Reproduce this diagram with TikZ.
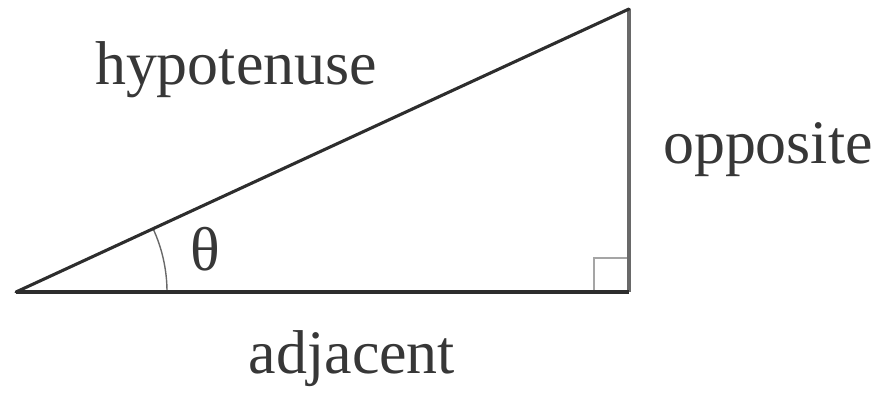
\documentclass[tikz,border=0pt]{standalone}
\usepackage{fontspec}
\setmainfont{Liberation Serif}
\usetikzlibrary{calc}
\definecolor{lineDark}{RGB}{45,45,45}
\definecolor{lineMid}{RGB}{105,105,105}
\definecolor{lineLight}{RGB}{165,165,165}
\definecolor{textDark}{RGB}{55,55,55}
\begin{document}
\begin{tikzpicture}[x=0.025cm,y=-0.025cm,
  lbl/.style={text=textDark,font=\fontsize{44}{50}\selectfont,anchor=base,inner sep=0pt}]
  \useasboundingbox (0,0) rectangle (891,393);
  % corners of the triangle
  \coordinate (A) at (16,292);
  \coordinate (B) at (629,292);
  \coordinate (C) at (629,9);
  % right angle mark and angle arc (y axis points down, so angles turn clockwise)
  \draw[lineLight,line width=1.8pt] ($(B)+(-35,0)$) |- ($(B)+(0,-34)$);
  \draw[lineMid,line width=1pt] ($(A)+(151,0)$) arc[start angle=0,end angle=-24.8,radius=151];
  % sides
  \draw[lineMid,line width=2.2pt] (B) -- (C);
  \draw[lineDark,line width=2.2pt,line cap=round] (A) -- (C);
  \draw[lineDark,line width=2.4pt] (A) -- (B);
  % labels
  \node[lbl] (hyp) at (236,85) {hypotenuse};
  \node[lbl] (opp) at (768,163) {opposite};
  \node[lbl] (adj) at (352,373) {adjacent};
  \node[lbl] (theta) at (205,270) {θ};
\end{tikzpicture}
\end{document}
